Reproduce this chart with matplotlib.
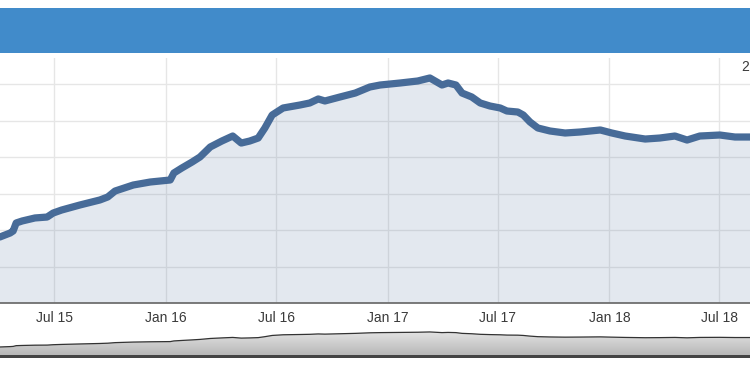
import matplotlib
matplotlib.use("Agg")
import matplotlib.pyplot as plt
import matplotlib.dates as mdates
from matplotlib.patches import Rectangle
import numpy as np
import pandas as pd

# ---- data ----
dates = ["2015-04-02", "2015-04-19", "2015-04-24", "2015-04-29", "2015-05-09",
         "2015-05-30", "2015-06-19", "2015-06-29", "2015-07-13", "2015-08-12",
         "2015-09-14", "2015-09-27", "2015-10-09", "2015-11-08", "2015-12-06",
         "2016-01-08", "2016-01-14", "2016-01-27", "2016-02-13", "2016-02-26",
         "2016-03-14", "2016-04-02", "2016-04-20", "2016-05-04", "2016-05-18",
         "2016-06-01", "2016-06-12", "2016-06-24", "2016-07-12", "2016-08-09",
         "2016-08-25", "2016-09-08", "2016-09-19", "2016-10-14", "2016-11-08",
         "2016-12-02", "2016-12-19", "2017-01-21", "2017-02-19", "2017-03-11",
         "2017-03-31", "2017-04-10", "2017-04-23", "2017-05-03", "2017-05-19",
         "2017-06-02", "2017-06-18", "2017-07-05", "2017-07-16", "2017-08-03",
         "2017-08-12", "2017-08-23", "2017-09-05", "2017-09-25", "2017-10-20",
         "2017-11-14", "2017-12-17", "2018-01-05", "2018-01-27", "2018-03-01",
         "2018-03-25", "2018-04-19", "2018-05-09", "2018-05-30", "2018-07-02",
         "2018-07-27", "2018-08-21"]
values = [72.3, 76.7, 78.9, 87.7, 89.9,
          93.2, 94.2, 98.6, 101.9, 107.4,
          112.9, 116.2, 122.7, 129.3, 132.6,
          134.8, 142.5, 147.9, 154.5, 160.0,
          171.0, 177.5, 183.0, 175.3, 177.5,
          180.8, 191.8, 206.0, 213.7, 217.0,
          219.2, 223.6, 221.4, 225.8, 230.1,
          236.7, 238.9, 241.1, 243.3, 246.6,
          238.9, 241.1, 238.9, 230.1, 225.8,
          219.2, 215.9, 213.7, 210.4, 209.3,
          206.0, 198.4, 191.8, 188.5, 186.3,
          187.4, 189.6, 186.3, 183.0, 179.7,
          180.8, 183.0, 178.6, 183.0, 184.1,
          181.9, 181.9]
tick_dates = ["2015-07-01", "2016-01-01", "2016-07-01", "2017-01-01",
              "2017-07-01", "2018-01-01", "2018-07-01"]
tick_labels = ["Jul 15", "Jan 16", "Jul 16", "Jan 17", "Jul 17", "Jan 18", "Jul 18"]
y_grid = [0, 40, 80, 120, 160, 200, 240]
y_label_text = "2"

x = pd.to_datetime(dates)
ticks = pd.to_datetime(tick_dates)
v = np.array(values)

W, H = 750, 373
fig = plt.figure(figsize=(W / 100, H / 100), dpi=100)
fig.patch.set_facecolor("white")
plt.rcParams['font.family'] = ['Liberation Sans', 'DejaVu Sans']

def fy(px):  # pixel from top -> figure fraction
    return (H - px) / H

# header band
fig.patches.append(Rectangle((0, fy(53)), 1, (53 - 8) / H, transform=fig.transFigure,
                             facecolor="#418bca", edgecolor="none", zorder=0))

x0 = mdates.date2num(pd.Timestamp("2016-01-01")) - 166 / 0.6066
x1 = mdates.date2num(pd.Timestamp("2016-01-01")) + 584 / 0.6066

# main axes
ax = fig.add_axes([0, fy(303), 1, (303 - 58) / H])
ax.set_facecolor("white")
for s in ["top", "left", "right"]:
    ax.spines[s].set_visible(False)
ax.spines["bottom"].set_color("#6f6f6f")
ax.spines["bottom"].set_linewidth(1.3)
ax.set_yticks(y_grid)
ax.yaxis.set_tick_params(length=0, labelleft=False)
ax.set_xticks(mdates.date2num(ticks))
ax.set_xticklabels(tick_labels, fontsize=10, color="#3a3a3a")
ax.tick_params(axis="x", length=0, pad=6)
ax.grid(True, color="#e6e6e6", linewidth=1)
ax.set_axisbelow(True)

xn = mdates.date2num(x)
ax.fill_between(xn, v, 0, color=(71 / 255, 107 / 255, 152 / 255, 0.15), linewidth=0, zorder=2)
ax.plot(xn, v, color="#476b98", linewidth=5.2, solid_capstyle="round",
        solid_joinstyle="round", zorder=3)
ax.set_xlim(x0, x1)
ax.set_ylim(0, 245 * 1.0959)

fig.text(741 / W, fy(67), y_label_text, fontsize=10, color="#3a3a3a",
         ha="left", va="center")

# navigator
nav = fig.add_axes([0, fy(357), 1, (357 - 317) / H])
nav.axis("off")
poly = nav.fill_between(xn, v, -44, color="none", linewidth=0)
grad = np.linspace(0, 1, 64).reshape(-1, 1)
img = nav.imshow(grad, extent=[x0, x1, -44, 250], aspect="auto", origin="upper",
                 cmap=matplotlib.colors.LinearSegmentedColormap.from_list(
                     "g", ["#e4e4e4", "#b4b4b4"]), zorder=1)
img.set_clip_path(poly.get_paths()[0], transform=nav.transData)
nav.plot(xn, v, color="#333333", linewidth=0.9, zorder=2)
nav.set_xlim(x0, x1)
nav.set_ylim(-44, 420)
fig.patches.append(Rectangle((0, fy(357.5)), 1, 2.5 / H, transform=fig.transFigure,
                             facecolor="#444444", edgecolor="none", zorder=5))

fig.savefig("out.png", dpi=100)
